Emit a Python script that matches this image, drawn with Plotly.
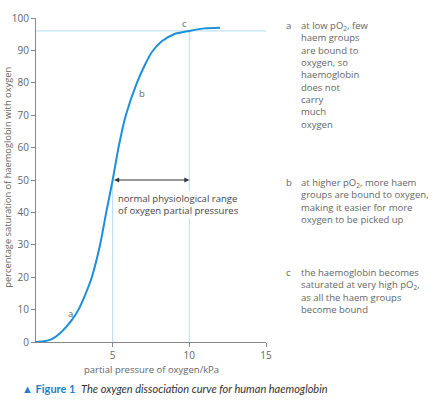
import plotly.graph_objects as go

# curve
po2 = [0, 0.5, 1, 1.57, 2, 2.4, 2.77, 3.2, 3.64, 4.18, 4.58, 5, 5.38, 5.86, 6.58, 7.1, 7.56, 8.2, 9, 10, 11, 12]
saturation = [0, 0.2, 0.8, 2.7, 4.8, 7.2, 10, 14.5, 20, 30, 40, 50, 60, 70, 80, 85.5, 89.5, 92.8, 95, 96, 96.8, 97]

range_low = 5
range_high = 10
range_sat = 50
sat_level = 96

point_labels = ['a', 'b', 'c']
point_x = [2.22, 6.9, 9.7]
point_y = [8.9, 76.7, 98.3]

x_ticks = [5, 10, 15]
y_ticks = list(range(0, 101, 10))

notes = [
    'at low pO<sub>2</sub>, few<br>haem groups<br>are bound to<br>oxygen, so<br>haemoglobin<br>does not<br>carry<br>much<br>oxygen',
    'at higher pO<sub>2</sub>, more haem<br>groups are bound to oxygen,<br>making it easier for more<br>oxygen to be picked up',
    'the haemoglobin becomes<br>saturated at very high pO<sub>2</sub>,<br>as all the haem groups<br>become bound',
]
note_top = [1.003, 0.52, 0.24]

grey = '#666666'
line_blue = '#b5dbf3'
font = 'Open Sans'

fig = go.Figure()

# light guide lines
fig.add_trace(go.Scatter(x=[0, 15], y=[sat_level, sat_level], mode='lines',
                         line=dict(color=line_blue, width=1), hoverinfo='skip'))
fig.add_trace(go.Scatter(x=[range_high, range_high], y=[0, sat_level], mode='lines',
                         line=dict(color=line_blue, width=1), hoverinfo='skip'))
fig.add_trace(go.Scatter(x=[range_low, range_low], y=[0, range_sat], mode='lines',
                         line=dict(color=line_blue, width=1), hoverinfo='skip'))

fig.add_trace(go.Scatter(x=po2, y=saturation, mode='lines',
                         line=dict(color='#1c8fdb', width=2, shape='spline', smoothing=0.6),
                         hoverinfo='skip'))

# double arrow for the normal range
fig.add_annotation(x=range_high, y=range_sat, ax=range_low, ay=range_sat, xref='x', yref='y',
                   axref='x', ayref='y', showarrow=True, arrowhead=2, arrowsize=1,
                   arrowwidth=1, arrowcolor='#333333', arrowside='end+start', text='')
fig.add_annotation(x=range_low + 0.2, y=range_sat - 3, xref='x', yref='y', xanchor='left',
                   yanchor='top', align='left', showarrow=False, bgcolor='white',
                   text='normal physiological range<br>of oxygen partial pressures',
                   font=dict(family=font, size=9.5, color='#444444'))

for lab, px, py in zip(point_labels, point_x, point_y):
    fig.add_annotation(x=px, y=py, text=lab, showarrow=False,
                       font=dict(family=font, size=9.5, color=grey))

for lab, txt, top in zip(point_labels, notes, note_top):
    fig.add_annotation(x=1.08, y=top, xref='paper', yref='paper', xanchor='left',
                       yanchor='top', text=lab, showarrow=False,
                       font=dict(family=font, size=9.5, color=grey))
    fig.add_annotation(x=1.143, y=top, xref='paper', yref='paper', xanchor='left',
                       yanchor='top', align='left', text=txt, showarrow=False,
                       font=dict(family=font, size=9.5, color=grey))

# axis titles
fig.add_annotation(x=-0.122, y=0.51, xref='paper', yref='paper', xanchor='center',
                   yanchor='middle', textangle=-90, showarrow=False,
                   text='percentage saturation of haemoglobin with oxygen',
                   font=dict(family=font, size=9.3, color=grey))
fig.add_annotation(x=0.5, y=-0.086, xref='paper', yref='paper', xanchor='center',
                   yanchor='middle', showarrow=False,
                   text='partial pressure of oxygen/kPa',
                   font=dict(family=font, size=9.5, color=grey))

fig.add_annotation(x=-0.07, y=-0.145, xref='paper', yref='paper', xanchor='left',
                   yanchor='middle', showarrow=False,
                   text='<b><span style="color:#1f7fc8">\u25b2 Figure 1</span></b>  '
                        '<i>The oxygen dissociation curve for human haemoglobin</i>',
                   font=dict(family='Lato', size=11, color='#333333'))

fig.update_layout(
    width=441, height=403,
    margin=dict(l=36, r=175, t=18, b=61),
    paper_bgcolor='white', plot_bgcolor='white',
    showlegend=False,
    font=dict(family=font, size=9.5, color=grey),
    xaxis=dict(range=[0, 15], tickvals=x_ticks, showline=True, linecolor='#888888',
               ticks='outside', ticklen=4, tickcolor='#888888', showgrid=False,
               zeroline=False, automargin=False, tickfont=dict(size=10, color=grey)),
    yaxis=dict(range=[0, 100], tickvals=y_ticks, showline=True, linecolor='#888888',
               ticks='outside', ticklen=4, tickcolor='#888888', showgrid=False,
               zeroline=False, automargin=False, tickfont=dict(size=10, color=grey)),
)

# drop the browser's default 8px body margin so the figure sits at the corner
fig.write_html('out.html', config={'displayModeBar': False},
               post_script="document.body.style.margin='0';")
